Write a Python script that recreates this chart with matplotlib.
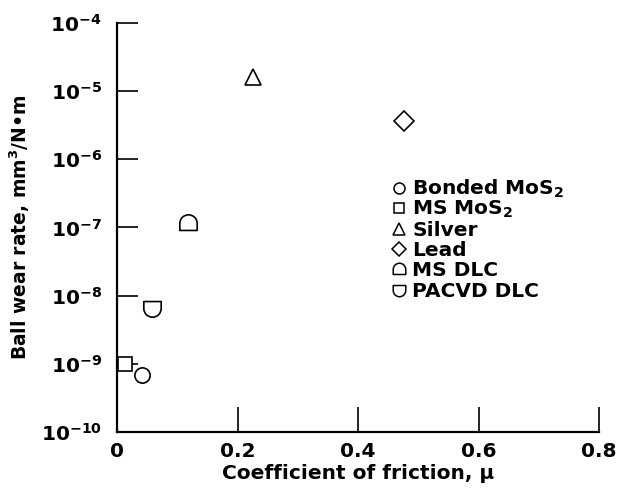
import numpy as np
import matplotlib
matplotlib.use("Agg")
import matplotlib.pyplot as plt
from matplotlib.path import Path
from matplotlib.ticker import FixedLocator, LogFormatterSciNotation, NullLocator

plt.rcParams['font.family'] = ['DejaVu Sans']
plt.rcParams['font.weight'] = 'bold'
plt.rcParams['mathtext.fontset'] = 'custom'
plt.rcParams['mathtext.rm'] = 'DejaVu Sans:bold'
plt.rcParams['mathtext.it'] = 'DejaVu Sans:bold'
plt.rcParams['mathtext.bf'] = 'DejaVu Sans:bold'
plt.rcParams['mathtext.default'] = 'regular'

# data
materials = ['Bonded MoS$_2$', 'MS MoS$_2$', 'Silver', 'Lead', 'MS DLC', 'PACVD DLC']
friction = [0.041, 0.013, 0.226, 0.476, 0.118, 0.058]
wear_rate = [6.9e-10, 1.0e-9, 1.6e-5, 3.6e-6, 1.17e-7, 6.6e-9]

x_ticks = [0, 0.2, 0.4, 0.6, 0.8]
x_labels = ['0', '0.2', '0.4', '0.6', '0.8']
y_ticks = [1e-10, 1e-9, 1e-8, 1e-7, 1e-6, 1e-5, 1e-4]

FS = 14.5


def half_round_marker(dome_up=True):
    """Marker: flat side + semicircle (dome up or cup down)."""
    if dome_up:
        arc = Path.arc(0, 180)
        start = [(-1, -0.8), (1, -0.8)]
    else:
        arc = Path.arc(180, 360)
        start = [(1, 0.8), (-1, 0.8)]
    verts = start + list(arc.vertices) + [start[0]]
    codes = [Path.MOVETO, Path.LINETO]
    arc_codes = list(arc.codes)
    arc_codes[0] = Path.LINETO
    codes += arc_codes + [Path.CLOSEPOLY]
    return Path(verts, codes)


markers = ['o', 's', '^', 'D', half_round_marker(True), half_round_marker(False)]
sizes = [11, 10, 12, 10, 12.5, 12.5]

fig = plt.figure(figsize=(6.19, 4.98), dpi=100)
ax = fig.add_axes([0.189, 0.1325, 0.779, 0.8215])

for name, x, y, m, s in zip(materials, friction, wear_rate, markers, sizes):
    ax.plot([x], [y], linestyle='none', marker=m, markersize=s,
            markerfacecolor='white', markeredgecolor='black',
            markeredgewidth=1.2, clip_on=False, zorder=3)

# hand-placed legend (evenly spaced rows, no frame)
leg_x, leg_tx, leg_y0, leg_dy = 0.585, 0.612, 0.597, 0.0499
for i, (name, m, s) in enumerate(zip(materials, markers, sizes)):
    yy = leg_y0 - i * leg_dy
    ax.plot([leg_x], [yy], transform=ax.transAxes, linestyle='none',
            marker=m, markersize=s * 0.72, markerfacecolor='white',
            markeredgecolor='black', markeredgewidth=1.1, clip_on=False)
    ax.text(leg_tx, yy - 0.017, name, transform=ax.transAxes,
            fontsize=FS, fontweight='bold', ha='left', va='baseline')

ax.set_yscale('log')
ax.set_ylim(1e-10, 1e-4)
ax.set_xlim(0, 0.8)
ax.yaxis.set_major_locator(FixedLocator(y_ticks))
ax.yaxis.set_major_formatter(LogFormatterSciNotation())
ax.yaxis.set_minor_locator(NullLocator())
ax.set_xticks(x_ticks)
ax.set_xticklabels(x_labels)

for side in ['top', 'right']:
    ax.spines[side].set_visible(False)
for side in ['left', 'bottom']:
    ax.spines[side].set_linewidth(1.6)

ax.tick_params(axis='both', direction='in', width=1.2,
               labelsize=FS, colors='black')
ax.tick_params(axis='y', length=15, pad=11)
ax.tick_params(axis='x', length=18, pad=7)

ax.set_xlabel('Coefficient of friction, μ', fontsize=FS, fontweight='bold',
              labelpad=2)
ax.set_ylabel('Ball wear rate, mm$^3$/N•m', fontsize=13.5, fontweight='bold',
              labelpad=6)

fig.savefig('out.png', dpi=100)
